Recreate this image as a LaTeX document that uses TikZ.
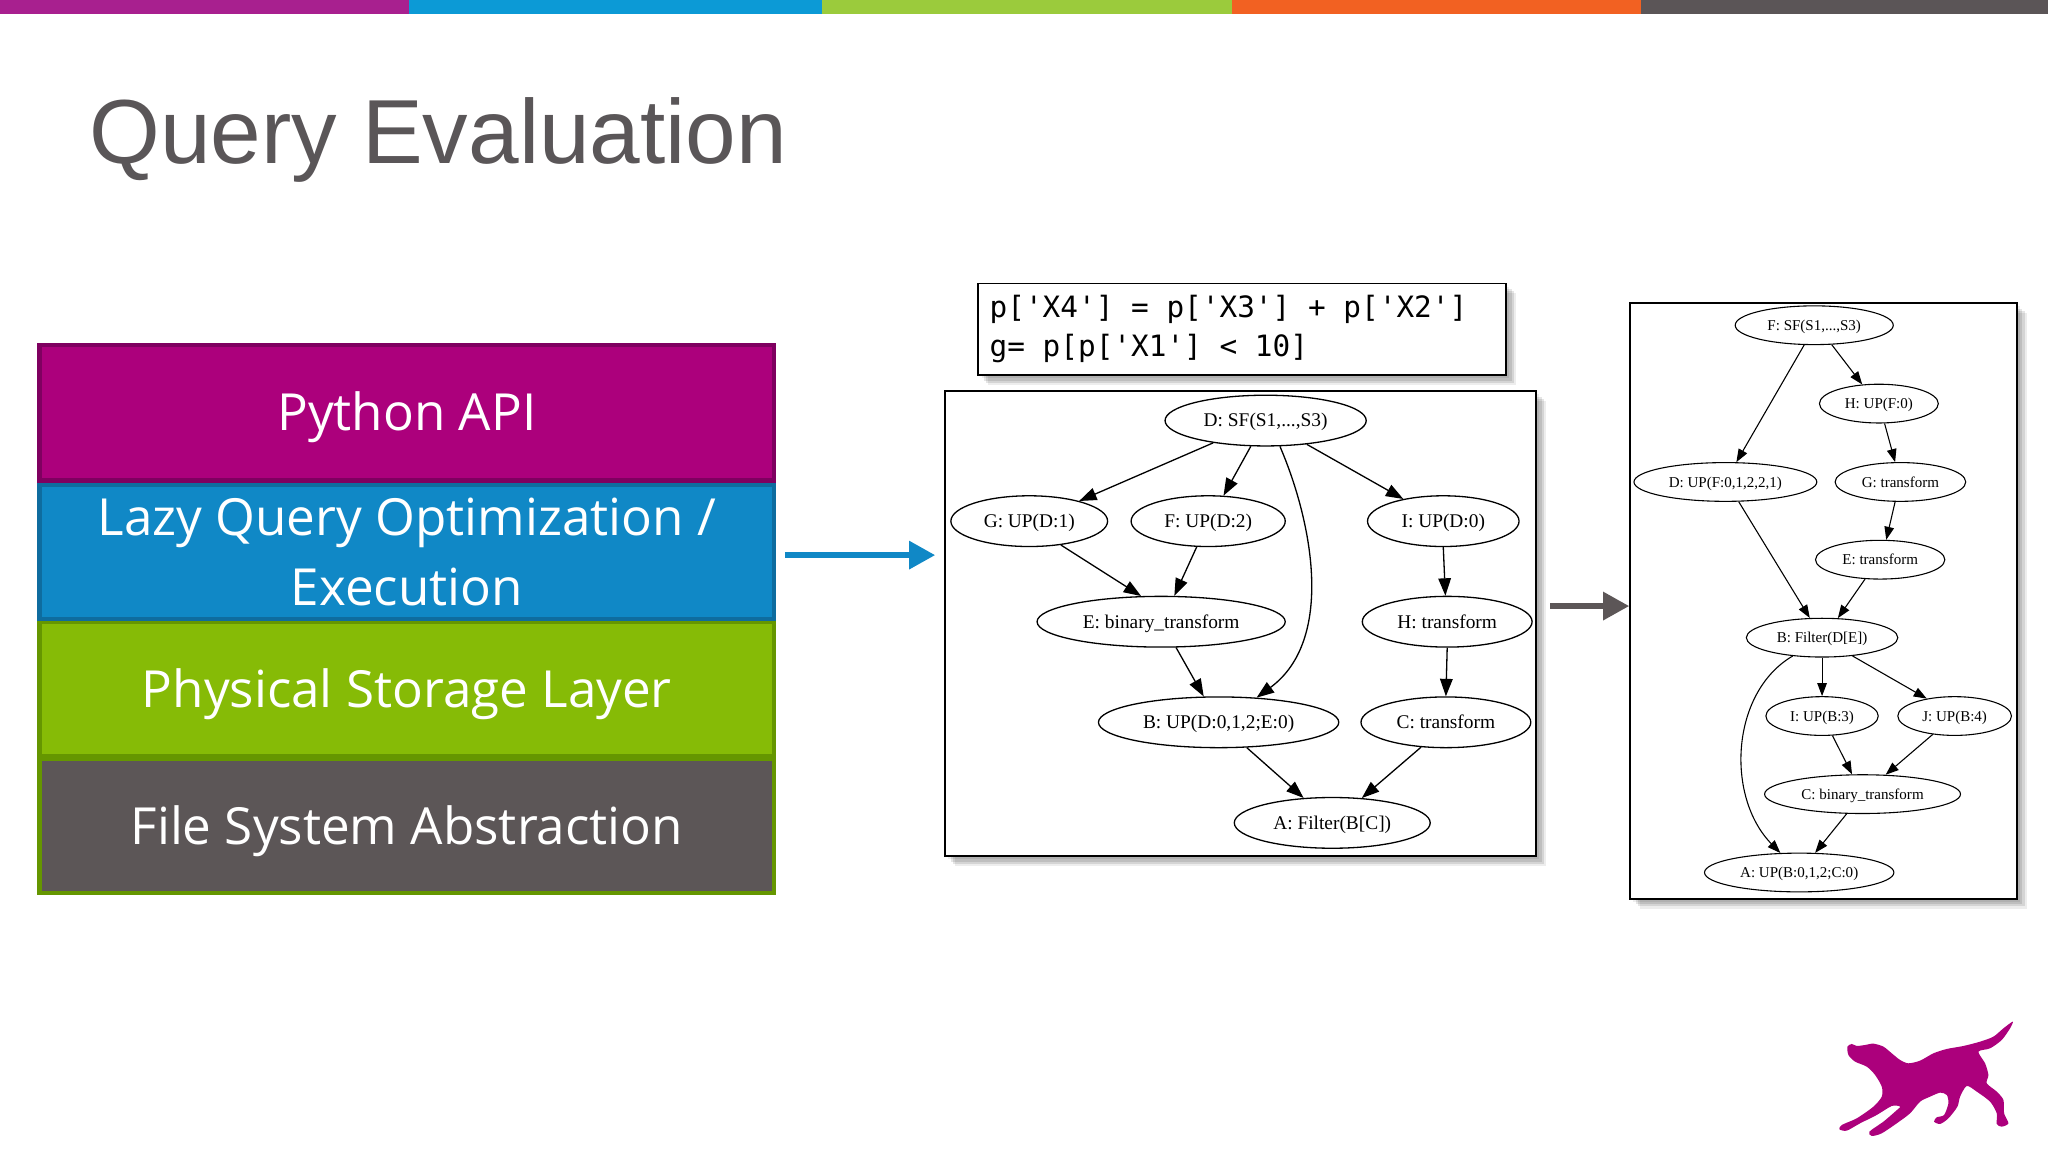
\documentclass[tikz,border=0pt]{standalone}
\usepackage{fontspec}
\setmainfont{Liberation Serif}
\newfontfamily\titlefont{Liberation Sans}
\newfontfamily\layerfont{Open Sans}
\newfontfamily\codefont{DejaVu Sans Mono}
\usetikzlibrary{shapes.geometric,arrows.meta,shadows}
\definecolor{barP}{HTML}{A8208F}
\definecolor{barB}{HTML}{0C9AD6}
\definecolor{barG}{HTML}{9BCB3C}
\definecolor{barO}{HTML}{F26122}
\definecolor{barK}{HTML}{5B5557}
\definecolor{fillP}{HTML}{AC007C}
\definecolor{lineP}{HTML}{7F0060}
\definecolor{fillB}{HTML}{1088C6}
\definecolor{lineB}{HTML}{0E6C9F}
\definecolor{fillG}{HTML}{86BB06}
\definecolor{lineG}{HTML}{659600}
\definecolor{fillK}{HTML}{5C5657}
\definecolor{titleC}{HTML}{5A5658}
\newcommand{\lowered}[1]{\raisebox{0pt}[.9em][.19em]{#1}}
\newcommand{\codesetup}{\codefont\fontsize{13.5}{18}\selectfont\spaceskip 8.13pt\relax}
\newcommand{\codeline}[1]{\leavevmode\raisebox{-1.2pt}{#1}}
\tikzset{
  softshadow/.style={
    general shadow={fill=black,opacity=.07,shadow xshift=1.5pt,shadow yshift=-1.5pt},
    general shadow={fill=black,opacity=.10,shadow xshift=2.6pt,shadow yshift=-2.6pt},
    general shadow={fill=black,opacity=.10,shadow xshift=3.6pt,shadow yshift=-3.6pt},
    general shadow={fill=black,opacity=.07,shadow xshift=4.6pt,shadow yshift=-4.6pt}},
  panel/.style={draw=black,fill=white,line width=.8pt,inner sep=0pt,softshadow},
  wd/.style={minimum width=#1*0.6pt},
  hd/.style={minimum height=#1*0.6pt},
  layer/.style={rectangle,line width=2pt,inner sep=0pt,minimum width=337.4pt,text=white,align=center,
     font=\layerfont\fontsize{23.5}{32.4}\selectfont},
  ga/.style={ellipse,draw=black,line width=.6pt,inner sep=0pt,minimum height=23.3pt,text height=7.2pt,text depth=1.4pt,font=\fontsize{8.9}{10}\selectfont},
  gb/.style={ellipse,draw=black,line width=.5pt,inner sep=0pt,minimum height=17.8pt,text height=5.8pt,text depth=1.1pt,font=\fontsize{6.9}{8}\selectfont},
  ea/.style={draw=black,line width=.6pt,-{Triangle[length=8pt,width=5.8pt]}},
  eb/.style={draw=black,line width=.5pt,-{Triangle[length=6pt,width=4.4pt]}},
  bigarrow/.style={line width=2.6pt,-{Triangle[length=12pt,width=12.5pt]}},
}
\begin{document}
\begin{tikzpicture}[x=.6pt,y=-.6pt]
\useasboundingbox (0,0) rectangle (1568,882);
\fill[white] (0,0) rectangle (1568,882);
% top bars
\fill[barP] (0,0) rectangle (313.5,10.5);
\fill[barB] (313.5,0) rectangle (629.5,10.5);
\fill[barG] (629.5,0) rectangle (943,10.5);
\fill[barO] (943,0) rectangle (1256,10.5);
\fill[barK] (1256,0) rectangle (1568,10.5);
% title
\node[anchor=base west,inner sep=0pt,text=titleC,font=\titlefont\fontsize{41.8}{48}\selectfont] (title) at (68,125) {Query Evaluation};
% layers
\node[layer,draw=lineG,fill=fillK,minimum height=61.6pt] (fs) at (311.5,632.5) {\lowered{File System Abstraction}};
\node[layer,draw=lineG,fill=fillG,minimum height=61.5pt] (phys) at (311.5,527.5) {\lowered{Physical Storage Layer}};
\node[layer,draw=lineB,fill=fillB,minimum height=61.5pt] (lazy) at (311.5,422.5) {Lazy Query Optimization /\\Execution};
\node[layer,draw=lineP,fill=fillP,minimum height=62.4pt] (py) at (311.5,316) {\lowered{Python API}};
% flow arrows
\coordinate (blueS) at (601,425);
\coordinate (blueE) at (716,425);
\coordinate (grayS) at (1187,464);
% code box
\node[panel,wd=404,hd=70,text width=232pt,align=left,font=\codesetup] (code) at (951,252)
  {\codesetup\codeline{p['X4'] = p['X3'] + p['X2']}\\[0pt]\codeline{g= p[p['X1'] < 10]}};
% left graph
\node[panel,wd=452.5,hd=356] (boxA) at (949.75,477.5) {};
\node[ga,wd=154] (aD) at (969,322) {D: SF(S1,...,S3)};
\node[ga,wd=120] (aG) at (788,399) {G: UP(D:1)};
\node[ga,wd=118] (aF) at (925,399) {F: UP(D:2)};
\node[ga,wd=116] (aI) at (1105,399) {I: UP(D:0)};
\node[ga,wd=190] (aE) at (889,476) {E: binary\_transform};
\node[ga,wd=130] (aH) at (1108,476) {H: transform};
\node[ga,wd=184] (aB) at (933,553) {B: UP(D:0,1,2;E:0)};
\node[ga,wd=130] (aC) at (1107,553) {C: transform};
\node[ga,wd=150] (aA) at (1020,630) {A: Filter(B[C])};
\draw[ea] (aD.203) -- (aG.22);
\draw[ea] (aD.240) -- (aF.59);
\draw[ea] (aD.299) .. controls (1005,400) and (1022,490) .. (aB.33);
\draw[ea] (aD.330) -- (aI.151);
\draw[ea] (aG.323) -- (aE.128);
\draw[ea] (aF.246) -- (aE.63);
\draw[ea] (aE.300) -- (aB.120);
\draw[ea] (aI.270) -- (aH.94);
\draw[ea] (aH.270) -- (aC.90);
\draw[ea] (aB.318) -- (aA.139);
\draw[ea] (aC.225) -- (aA.40);
% right graph
\node[panel,wd=296,hd=456] (boxB) at (1396,460) {};
\node[gb,wd=121] (bF) at (1389,249) {F: SF(S1,...,S3)};
\node[gb,wd=91] (bH) at (1438.5,309) {H: UP(F:0)};
\node[gb,wd=140] (bD) at (1321,369) {D: UP(F:0,1,2,2,1)};
\node[gb,wd=100] (bG) at (1455,369) {G: transform};
\node[gb,wd=99] (bE) at (1439.5,428.5) {E: transform};
\node[gb,wd=116] (bB) at (1395,488.2) {B: Filter(D[E])};
\node[gb,wd=86] (bI) at (1395,548.2) {I: UP(B:3)};
\node[gb,wd=87] (bJ) at (1496.5,548.2) {J: UP(B:4)};
\node[gb,wd=150] (bC) at (1426,608) {C: binary\_transform};
\node[gb,wd=145] (bA) at (1377.5,668) {A: UP(B:0,1,2;C:0)};
\draw[eb] (bF.243) -- (bD.61);
\draw[eb] (bF.312) -- (bH.131);
\draw[eb] (bH.286) -- (bG.105);
\draw[eb] (bG.255) -- (bE.73);
\draw[eb] (bE.232) -- (bB.51);
\draw[eb] (bD.304) -- (bB.122);
\draw[eb] (bB.270) -- (bI.90);
\draw[eb] (bB.329) -- (bJ.148);
\draw[eb] (bB.212) .. controls (1325,530) and (1321,610) .. (bA.134);
\draw[eb] (bI.298) -- (bC.118);
\draw[eb] (bJ.220) -- (bC.40);
\draw[eb] (bC.231) -- (bA.51);
% big arrows
\draw[bigarrow,color=fillB] (blueS) -- (blueE);
\draw[bigarrow,color=fillK] (grayS) -- (boxB.west |- grayS);
% dog
\begin{scope}[shift={(1393.5,765.6)},x=.1531pt,y=-.1531pt]
\fill[fillP] plot[smooth cycle,tension=.45] coordinates {
(82,140) (95,132) (110,138) (135,135) (160,131) (190,140) (215,160) (240,180) (265,190) (300,182) (340,160) (380,147) (430,138) (480,125) (520,110) (550,85) (578,65) (570,85) (545,120) (510,145) (475,155) (495,190) (505,225) (500,250) (530,275) (550,300) (552,340) (565,370) (545,380) (530,372) (530,340) (510,305) (470,275) (440,258) (420,290) (412,320) (385,355) (360,372) (342,365) (350,352) (372,345) (385,310) (380,285) (360,278) (330,290) (300,305) (270,340) (230,370) (185,400) (155,408) (148,395) (190,365) (225,335) (240,320) (215,318) (170,345) (120,370) (80,392) (58,388) (65,375) (110,355) (160,320) (185,290) (185,260) (165,225) (140,200) (105,185) (85,165)};
\end{scope}
\end{tikzpicture}
\end{document}
